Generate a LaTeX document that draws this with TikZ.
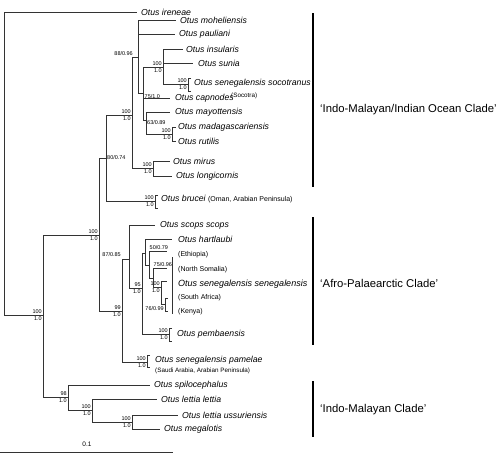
\documentclass[tikz,border=0pt]{standalone}
\usepackage{fontspec}
\setmainfont{Liberation Sans}
\begin{document}
\begin{tikzpicture}[x=1pt,y=-1pt,
  br/.style={draw=black!80, line width=0.7pt},
  sp/.style={anchor=west, inner sep=0pt, font=\fontsize{8.7}{10}\selectfont\itshape},
  loc/.style={anchor=west, inner sep=0pt, font=\fontsize{7}{8}\selectfont},
  sloc/.style={anchor=west, inner sep=0pt, font=\fontsize{6.3}{7}\selectfont},
  sv/.style={inner sep=0pt, font=\fontsize{5.5}{6}\selectfont},
  svtop/.style={sv, anchor=south east},
  svbot/.style={sv, anchor=north east},
  clade/.style={anchor=west, inner sep=0pt, font=\fontsize{11.3}{13}\selectfont},
  bar/.style={line width=2.6pt, draw=black}]
\useasboundingbox (0,0) rectangle (500,456);
% ---------- internal nodes ----------
\coordinate (rootT) at (4,12);
\coordinate (rootB) at (4,315);
\coordinate (A) at (43,315);
\coordinate (E) at (99,235);
\coordinate (D) at (106,158);
\coordinate (P) at (132,115);
\coordinate (Q) at (138,57);
\coordinate (U) at (143,93);
\coordinate (S) at (163,67);
\coordinate (SO) at (188,84);
\coordinate (V) at (146,120);
\coordinate (W) at (172,134);
\coordinate (R) at (153,168);
\coordinate (B1) at (155,201);
\coordinate (F) at (122,311);
\coordinate (G) at (129,259);
\coordinate (H) at (142,288);
\coordinate (I) at (145,253);
\coordinate (K) at (149,265);
\coordinate (L) at (153,278);
\coordinate (M) at (161,287);
\coordinate (N) at (165,304);
\coordinate (PE) at (169,334);
\coordinate (PA) at (147,362);
\coordinate (C) at (68,397);
\coordinate (X) at (92,410);
\coordinate (Y) at (132,422);
% ---------- leaf ends ----------
\coordinate (ire) at (137,12);
\coordinate (moh) at (176,20);
\coordinate (pau) at (175,34);
\coordinate (ins) at (183,49);
\coordinate (sun) at (193,63);
\coordinate (cap) at (170,98);
\coordinate (may) at (170,112);
\coordinate (mir) at (170,161);
\coordinate (lon) at (172,176);
\coordinate (sco) at (155,225);
\coordinate (har) at (172,239);
\coordinate (eth) at (167,251);
\coordinate (nso) at (167,268);
\coordinate (mtk) at (167,281);
\coordinate (spi) at (150,385);
\coordinate (let) at (157,399);
\coordinate (uss) at (178,415);
\coordinate (meg) at (160,429);
% ---------- branches ----------
\draw[br] (rootT) -- (rootB);
\draw[br] (rootT) -- (ire);
\draw[br] (rootB) -- (A);
\draw[br] (A) |- (E);
\draw[br] (A) |- (C);
\draw[br] (E) |- (D);
\draw[br] (E) |- (F);
\draw[br] (D) |- (P);
\draw[br] (D) |- (B1);
\draw[br] (P) |- (Q);
\draw[br] (P) |- (R);
\draw[br] (Q) |- (moh);
\draw[br] (Q) |- (pau);
\draw[br] (Q) |- (U);
\draw[br] (U) |- (S);
\draw[br] (U) |- (cap);
\draw[br] (U) |- (V);
\draw[br] (S) |- (ins);
\draw[br] (S) |- (sun);
\draw[br] (S) |- (SO);
\draw[br] (V) |- (may);
\draw[br] (V) |- (W);
\draw[br] (R) |- (mir);
\draw[br] (R) |- (lon);
\draw[br] (F) |- (G);
\draw[br] (F) |- (PA);
\draw[br] (G) |- (sco);
\draw[br] (G) |- (H);
\draw[br] (H) |- (I);
\draw[br] (H) |- (PE);
\draw[br] (I) |- (har);
\draw[br] (I) |- (K);
\draw[br] (K) |- (eth);
\draw[br] (K) |- (L);
\draw[br] (L) |- (nso);
\draw[br] (L) |- (M);
\draw[br] (M) |- (mtk);
\draw[br] (M) |- (N);
\draw[br] (C) |- (spi);
\draw[br] (C) |- (X);
\draw[br] (X) |- (let);
\draw[br] (X) |- (Y);
\draw[br] (Y) |- (uss);
\draw[br] (Y) |- (meg);
% ---------- collapsed brackets ----------
\draw[br] ([xshift=3pt,yshift=6pt]SO) -- ([yshift=6pt]SO) -- ([yshift=-7pt]SO) -- ([xshift=3pt,yshift=-7pt]SO);
\draw[br] ([xshift=4pt,yshift=7pt]W) -- ([yshift=7pt]W) -- ([yshift=-7pt]W) -- ([xshift=4pt,yshift=-7pt]W);
\draw[br] ([xshift=3pt,yshift=6pt]B1) -- ([yshift=6pt]B1) -- ([yshift=-7pt]B1) -- ([xshift=3pt,yshift=-7pt]B1);
\draw[br] ([xshift=3pt,yshift=6pt]N) -- ([yshift=6pt]N) -- ([yshift=-7pt]N) -- ([xshift=3pt,yshift=-7pt]N);
\draw[br] ([xshift=3pt,yshift=6pt]PE) -- ([yshift=6pt]PE) -- ([yshift=-7pt]PE) -- ([xshift=3pt,yshift=-7pt]PE);
\draw[br] ([xshift=3pt,yshift=7pt]PA) -- ([yshift=7pt]PA) -- ([yshift=-5pt]PA) -- ([xshift=3pt,yshift=-5pt]PA);
\coordinate (ssT) at (172,257);
\coordinate (ssB) at (172,314);
\draw[br] (ssT) -- (ssB);
% ---------- support values ----------
\node[svtop] (sA1) at ([xshift=-1pt,yshift=1pt]A) {100};
\node[svbot] (sA2) at ([xshift=-1pt,yshift=-1.5pt]A) {1.0};
\node[svtop] (sE1) at ([xshift=-1pt,yshift=1pt]E) {100};
\node[svbot] (sE2) at ([xshift=-1pt,yshift=-1.5pt]E) {1.0};
\node[sv,anchor=west] (sD) at ([xshift=1pt]D) {80/0.74};
\node[svtop] (sP1) at ([xshift=-1pt,yshift=1pt]P) {100};
\node[svbot] (sP2) at ([xshift=-1pt,yshift=-1.5pt]P) {1.0};
\node[svtop] (sQ) at ([xshift=-5pt,yshift=1pt]Q) {88/0.96};
\node[sv,anchor=north west] (sU) at ([xshift=1.5pt,yshift=-1pt]U) {75/1.0};
\node[sv,anchor=north west] (sV) at ([xshift=1pt,yshift=-0.5pt]V) {63/0.89};
\node[svtop] (sS1) at ([xshift=-1pt,yshift=1pt]S) {100};
\node[svbot] (sS2) at ([xshift=-1pt,yshift=-1.5pt]S) {1.0};
\node[svtop] (sSO1) at ([xshift=-1pt,yshift=1pt]SO) {100};
\node[svbot] (sSO2) at ([xshift=-1pt,yshift=-1.5pt]SO) {1.0};
\node[svtop] (sW1) at ([xshift=-1pt,yshift=1pt]W) {100};
\node[svbot] (sW2) at ([xshift=-1pt,yshift=-1.5pt]W) {1.0};
\node[svtop] (sR1) at ([xshift=-1pt,yshift=1pt]R) {100};
\node[svbot] (sR2) at ([xshift=-1pt,yshift=-1.5pt]R) {1.0};
\node[svtop] (sB1) at ([xshift=-1pt,yshift=1pt]B1) {100};
\node[svbot] (sB2) at ([xshift=-1pt,yshift=-1.5pt]B1) {1.0};
\node[svtop] (sF1) at ([xshift=-1pt,yshift=1pt]F) {99};
\node[svbot] (sF2) at ([xshift=-1pt,yshift=-1.5pt]F) {1.0};
\node[svtop] (sG) at ([xshift=-8pt,yshift=2pt]G) {87/0.85};
\node[svtop] (sH1) at ([xshift=-1pt,yshift=1pt]H) {95};
\node[svbot] (sH2) at ([xshift=-1pt,yshift=-1.5pt]H) {1.0};
\node[sv,anchor=south west] (sK) at ([xshift=0.5pt,yshift=15pt]K) {50/0.79};
\node[sv,anchor=south west] (sL) at ([xshift=0.5pt,yshift=11pt]L) {75/0.96};
\node[svtop] (sM1) at ([xshift=-1pt,yshift=1pt]M) {100};
\node[svbot] (sM2) at ([xshift=-1pt,yshift=-1.5pt]M) {1.0};
\node[sv,anchor=east] (sN) at ([xshift=-1pt,yshift=-5pt]N) {76/0.99};
\node[svtop] (sPE1) at ([xshift=-1pt,yshift=1pt]PE) {100};
\node[svbot] (sPE2) at ([xshift=-1pt,yshift=-1.5pt]PE) {1.0};
\node[svtop] (sPA1) at ([xshift=-1pt,yshift=1pt]PA) {100};
\node[svbot] (sPA2) at ([xshift=-1pt,yshift=-1.5pt]PA) {1.0};
\node[svtop] (sC1) at ([xshift=-1pt,yshift=1pt]C) {98};
\node[svbot] (sC2) at ([xshift=-1pt,yshift=-1.5pt]C) {1.0};
\node[svtop] (sX1) at ([xshift=-1pt,yshift=1pt]X) {100};
\node[svbot] (sX2) at ([xshift=-1pt,yshift=-1.5pt]X) {1.0};
\node[svtop] (sY1) at ([xshift=-1pt,yshift=1pt]Y) {100};
\node[svbot] (sY2) at ([xshift=-1pt,yshift=-1.5pt]Y) {1.0};
% ---------- taxon labels ----------
\node[sp] (tire) at (141,12) {Otus ireneae};
\node[sp] (tmoh) at (180,20) {Otus moheliensis};
\node[sp] (tpau) at (179,34) {Otus pauliani};
\node[sp] (tins) at (186,49) {Otus insularis};
\node[sp] (tsun) at (198,63) {Otus sunia};
\node[sp] (tsoc) at (194,83.5) {Otus senegalensis socotranus};
\node[sloc] (tsocl) at (231,95.5) {(Socotra)};
\node[sp] (tcap) at (175,98) {Otus capnodes};
\node[sp] (tmay) at (175,112) {Otus mayottensis};
\node[sp] (tmad) at (178,127) {Otus madagascariensis};
\node[sp] (trut) at (178,141) {Otus rutilis};
\node[sp] (tmir) at (173,161) {Otus mirus};
\node[sp] (tlon) at (176,176) {Otus longicornis};
\node[sp] (tbru) at (161,199) {Otus brucei \fontsize{7}{8}\selectfont\upshape (Oman, Arabian Peninsula)};
\node[sp] (tsco) at (160,225) {Otus scops scops};
\node[sp] (thar) at (178,239) {Otus hartlaubi};
\node[loc] (teth) at (178,255) {(Ethiopia)};
\node[loc] (tnso) at (178,270) {(North Somalia)};
\node[sp, font=\fontsize{9}{10}\selectfont\itshape] (tsen) at (178,284) {Otus senegalensis senegalensis};
\node[loc] (tsaf) at (178,298) {(South Africa)};
\node[loc] (tken) at (178,312) {(Kenya)};
\node[sp] (tpem) at (177,334) {Otus pembaensis};
\node[sp] (tpam) at (155,360) {Otus senegalensis pamelae};
\node[sloc] (tpaml) at (155,371) {(Saudi Arabia, Arabian Peninsula)};
\node[sp] (tspi) at (154,385) {Otus spilocephalus};
\node[sp] (tlet) at (161,399) {Otus lettia lettia};
\node[sp] (tuss) at (182,415) {Otus lettia ussuriensis};
\node[sp] (tmeg) at (164,429) {Otus megalotis};
% ---------- scale bar ----------
\coordinate (sbL) at (0,452);
\coordinate (sbR) at (173,452);
\draw[br] (sbL) -- (sbR);
\node[sv, font=\fontsize{6.5}{7}\selectfont] (sbT) at (87,444) {0.1};
% ---------- clade bars ----------
\coordinate (b1T) at (313,13); \coordinate (b1B) at (313,187);
\coordinate (b2T) at (313,217); \coordinate (b2B) at (313,345);
\coordinate (b3T) at (313,381); \coordinate (b3B) at (313,437);
\draw[bar] (b1T) -- (b1B);
\draw[bar] (b2T) -- (b2B);
\draw[bar] (b3T) -- (b3B);
\node[clade] (c1) at (320,110) {‘Indo-Malayan/Indian Ocean Clade’};
\node[clade] (c2) at (320,283) {‘Afro-Palaearctic Clade’};
\node[clade] (c3) at (320,410) {‘Indo-Malayan Clade’};
\end{tikzpicture}
\end{document}
